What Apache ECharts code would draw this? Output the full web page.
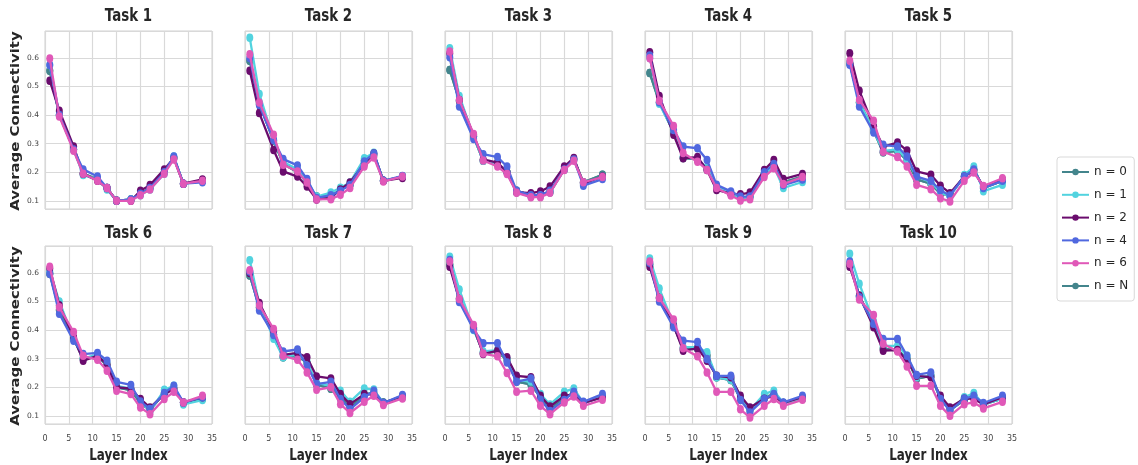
<!DOCTYPE html>
<html><head><meta charset="utf-8">
<script src="https://cdn.jsdelivr.net/npm/echarts@6/dist/echarts.min.js"></script>
<style>html,body{margin:0;padding:0;background:#fff}#c{width:1138px;height:465px}</style>
</head><body><div id="c"></div>
<script>
const layers = [1, 3, 6, 8, 11, 13, 15, 18, 20, 22, 25, 27, 29, 33];
const taskNames = ['Task 1','Task 2','Task 3','Task 4','Task 5','Task 6','Task 7','Task 8','Task 9','Task 10'];
const seriesNames = ['n = 0','n = 1','n = 2','n = 4','n = 6','n = N'];
const yTicks = [0.1, 0.2, 0.3, 0.4, 0.5, 0.6];
const xTicks = [0, 5, 10, 15, 20, 25, 30, 35];
const xLabel = 'Layer Index';
const yLabel = 'Average Connectivity';

const n0 = [
  [0.555,0.40,0.28,0.195,0.175,0.145,0.10,0.105,0.125,0.145,0.20,0.25,0.16,0.17],
  [0.59,0.44,0.31,0.23,0.20,0.165,0.115,0.115,0.14,0.155,0.24,0.26,0.17,0.185],
  [0.558,0.45,0.325,0.24,0.23,0.20,0.135,0.12,0.12,0.13,0.21,0.245,0.165,0.191],
  [0.547,0.445,0.34,0.25,0.245,0.21,0.15,0.125,0.11,0.115,0.195,0.22,0.165,0.185],
  [0.58,0.445,0.345,0.27,0.275,0.24,0.175,0.16,0.125,0.12,0.185,0.21,0.145,0.17],
  [0.597,0.47,0.37,0.30,0.31,0.275,0.20,0.19,0.145,0.12,0.18,0.195,0.147,0.16],
  [0.591,0.48,0.385,0.305,0.31,0.285,0.21,0.195,0.165,0.13,0.175,0.18,0.147,0.165],
  [0.63,0.51,0.405,0.32,0.325,0.295,0.22,0.21,0.165,0.125,0.165,0.18,0.145,0.165],
  [0.63,0.515,0.415,0.335,0.335,0.31,0.235,0.225,0.16,0.12,0.165,0.175,0.145,0.16],
  [0.63,0.52,0.42,0.335,0.33,0.30,0.23,0.24,0.16,0.12,0.155,0.17,0.14,0.16]
];
const n1 = [
  [0.575,0.40,0.28,0.19,0.175,0.14,0.10,0.105,0.12,0.14,0.195,0.255,0.16,0.17],
  [0.67,0.474,0.313,0.237,0.21,0.17,0.115,0.129,0.146,0.164,0.249,0.268,0.17,0.185],
  [0.634,0.467,0.325,0.24,0.23,0.20,0.13,0.115,0.115,0.13,0.21,0.245,0.16,0.185],
  [0.60,0.44,0.34,0.255,0.245,0.215,0.15,0.125,0.11,0.115,0.195,0.22,0.145,0.166],
  [0.585,0.445,0.345,0.275,0.28,0.245,0.185,0.165,0.13,0.115,0.19,0.22,0.134,0.156],
  [0.605,0.50,0.37,0.30,0.315,0.285,0.205,0.195,0.155,0.115,0.191,0.205,0.14,0.155],
  [0.644,0.49,0.37,0.305,0.315,0.29,0.215,0.205,0.188,0.149,0.196,0.192,0.145,0.165],
  [0.656,0.542,0.40,0.325,0.33,0.30,0.225,0.22,0.176,0.14,0.184,0.196,0.145,0.17],
  [0.65,0.545,0.42,0.34,0.34,0.322,0.235,0.226,0.165,0.12,0.176,0.188,0.145,0.16],
  [0.667,0.562,0.43,0.345,0.345,0.31,0.235,0.24,0.165,0.12,0.165,0.18,0.14,0.16]
];
const n2 = [
  [0.52,0.415,0.29,0.195,0.17,0.145,0.10,0.10,0.135,0.155,0.21,0.25,0.16,0.175],
  [0.555,0.407,0.278,0.203,0.185,0.15,0.105,0.11,0.14,0.164,0.23,0.266,0.17,0.18],
  [0.615,0.453,0.33,0.245,0.234,0.20,0.13,0.127,0.133,0.15,0.22,0.25,0.16,0.185],
  [0.62,0.467,0.331,0.249,0.253,0.208,0.138,0.125,0.123,0.129,0.208,0.243,0.176,0.194],
  [0.616,0.485,0.36,0.29,0.304,0.276,0.203,0.191,0.153,0.127,0.185,0.205,0.15,0.175],
  [0.615,0.487,0.375,0.293,0.31,0.28,0.20,0.195,0.159,0.129,0.175,0.195,0.147,0.165],
  [0.60,0.495,0.395,0.313,0.32,0.305,0.238,0.231,0.176,0.141,0.176,0.175,0.145,0.17],
  [0.621,0.505,0.41,0.316,0.328,0.305,0.24,0.235,0.17,0.133,0.17,0.175,0.145,0.165],
  [0.621,0.51,0.415,0.328,0.336,0.293,0.24,0.235,0.17,0.129,0.16,0.17,0.145,0.165],
  [0.621,0.52,0.41,0.328,0.33,0.293,0.24,0.235,0.17,0.129,0.16,0.16,0.14,0.165]
];
const n4 = [
  [0.575,0.40,0.28,0.21,0.185,0.145,0.10,0.105,0.125,0.145,0.20,0.255,0.16,0.165],
  [0.60,0.435,0.313,0.246,0.224,0.176,0.11,0.12,0.135,0.155,0.238,0.266,0.17,0.187],
  [0.602,0.43,0.316,0.263,0.253,0.22,0.135,0.12,0.12,0.135,0.21,0.245,0.153,0.176],
  [0.608,0.445,0.348,0.29,0.284,0.243,0.156,0.133,0.115,0.115,0.20,0.229,0.155,0.175],
  [0.576,0.43,0.339,0.296,0.29,0.255,0.185,0.17,0.137,0.119,0.185,0.21,0.145,0.17],
  [0.597,0.457,0.363,0.316,0.32,0.293,0.219,0.208,0.15,0.124,0.18,0.205,0.147,0.165],
  [0.605,0.468,0.383,0.325,0.332,0.275,0.211,0.219,0.159,0.123,0.165,0.188,0.145,0.173],
  [0.645,0.498,0.402,0.354,0.354,0.287,0.219,0.231,0.156,0.117,0.155,0.184,0.149,0.176],
  [0.635,0.50,0.41,0.363,0.358,0.299,0.24,0.24,0.155,0.112,0.159,0.176,0.147,0.17],
  [0.64,0.515,0.422,0.369,0.369,0.31,0.243,0.252,0.159,0.117,0.16,0.17,0.145,0.17]
];
const n6 = [
  [0.598,0.395,0.275,0.195,0.17,0.145,0.10,0.10,0.12,0.14,0.195,0.245,0.16,0.17],
  [0.613,0.444,0.331,0.226,0.203,0.164,0.105,0.106,0.121,0.145,0.22,0.252,0.168,0.185],
  [0.622,0.453,0.334,0.241,0.22,0.194,0.128,0.113,0.113,0.128,0.208,0.24,0.165,0.183],
  [0.599,0.45,0.362,0.267,0.237,0.208,0.145,0.119,0.101,0.106,0.183,0.214,0.159,0.183],
  [0.59,0.453,0.38,0.272,0.253,0.22,0.156,0.141,0.109,0.098,0.17,0.199,0.152,0.179],
  [0.621,0.48,0.393,0.31,0.296,0.258,0.188,0.176,0.129,0.106,0.159,0.184,0.147,0.17],
  [0.609,0.486,0.404,0.31,0.296,0.252,0.191,0.20,0.141,0.11,0.149,0.17,0.138,0.161],
  [0.64,0.509,0.418,0.318,0.308,0.25,0.184,0.188,0.135,0.106,0.147,0.168,0.135,0.156],
  [0.64,0.512,0.437,0.336,0.308,0.252,0.184,0.184,0.123,0.094,0.135,0.159,0.135,0.156],
  [0.632,0.507,0.453,0.352,0.325,0.273,0.205,0.205,0.135,0.10,0.141,0.147,0.126,0.149]
];
// n = N overlaps n = 0 in the picture
const nN = n0;

const seriesData = [n0, n1, n2, n4, n6, nN];
const colors = ['#43858c', '#52d3df', '#6a0c6d', '#5068df', '#e058b8', '#43858c'];

const FONT = 'DejaVu Sans';
const SQ = 0.77; // horizontal squash of the original figure
const grids = [], xAxes = [], yAxes = [], series = [], graphics = [];
for (let t = 0; t < taskNames.length; t++) {
  const row = Math.floor(t / 5), col = t % 5;
  const left = 45 + col * 200, top = row ? 246 : 31, w = 167, h = 178;
  grids.push({left: left, top: top, width: w, height: h, show: true,
    borderColor: '#d0d0d0', borderWidth: 1, backgroundColor: 'transparent'});
  graphics.push({type: 'text', x: left + w / 2, y: row ? 233 : 16.5, scaleX: SQ, silent: true,
    style: {text: taskNames[t], font: 'bold 17.4px ' + FONT, fill: '#262626', align: 'center', verticalAlign: 'middle'}});
  if (row === 1) {
    graphics.push({type: 'text', x: left + w / 2, y: 456, scaleX: SQ, silent: true,
      style: {text: xLabel, font: 'bold 15.5px ' + FONT, fill: '#262626', align: 'center', verticalAlign: 'middle'}});
  }
  if (col === 0) {
    graphics.push({type: 'text', x: 16.5, y: top + h / 2 + 1, rotation: Math.PI / 2, scaleY: SQ, silent: true,
      style: {text: yLabel, font: 'bold 14.9px ' + FONT, fill: '#262626', align: 'center', verticalAlign: 'middle'}});
  }
  xAxes.push({type: 'value', gridIndex: t, min: xTicks[0], max: xTicks[xTicks.length - 1], interval: 5,
    axisLine: {show: false}, axisTick: {show: false},
    splitLine: {show: true, lineStyle: {color: '#d9d9d9', width: 1.2}},
    axisLabel: {show: row === 1, fontSize: 8, color: '#444', fontFamily: FONT, margin: 11}});
  yAxes.push({type: 'value', gridIndex: t, min: 0.0715, max: 0.694, minInterval: 0.1, maxInterval: 0.1,
    axisLine: {show: false}, axisTick: {show: false},
    splitLine: {show: true, lineStyle: {color: '#d9d9d9', width: 1.2}},
    axisLabel: {show: col === 0, fontSize: 7.5, color: '#444', fontFamily: FONT, margin: 6,
      showMinLabel: false, showMaxLabel: false,
      formatter: v => yTicks.some(y => Math.abs(y - v) < 1e-6) ? v.toFixed(1) : ''}});
  const order = [5, 0, 1, 2, 3, 4];
  order.forEach((s, k) => {
    series.push({type: 'line', name: seriesNames[s], xAxisIndex: t, yAxisIndex: t,
      data: layers.map((x, i) => [x, seriesData[s][t][i]]),
      color: colors[s], symbol: 'circle', symbolSize: [7, 8.5], showSymbol: true,
      lineStyle: {width: 2.3, color: colors[s]}, itemStyle: {color: colors[s]},
      z: 2 + k, emphasis: {disabled: true}, animation: false});
  });
}

const chart = echarts.init(document.getElementById('c'), null, {renderer: 'canvas'});
chart.setOption({
  backgroundColor: '#fff',
  animation: false,
  grid: grids,
  xAxis: xAxes,
  yAxis: yAxes,
  graphic: graphics,
  legend: {data: seriesNames, orient: 'vertical', left: 1057, top: 157,
    itemWidth: 27, itemHeight: 8, itemGap: 8.8, padding: [8, 6, 8, 4],
    borderColor: '#d9d9d9', borderWidth: 1, borderRadius: 3, backgroundColor: '#fff',
    textStyle: {fontFamily: FONT, fontSize: 12, color: '#262626', lineHeight: 14}},
  series: series
});
</script></body></html>
